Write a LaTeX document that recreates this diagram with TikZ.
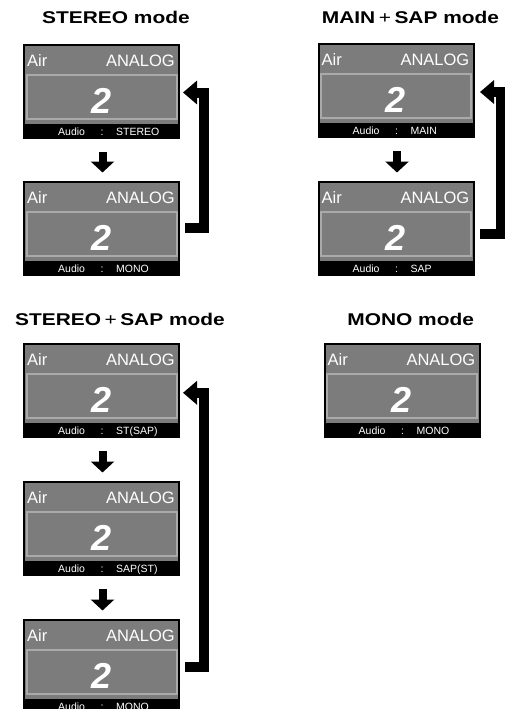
\documentclass[tikz,border=0pt]{standalone}
\usepackage{graphicx}
\usepackage{fontspec}
\setmainfont{Liberation Sans}
\usetikzlibrary{arrows.meta}
\definecolor{scrgray}{RGB}{124,124,124}
\definecolor{scrline}{RGB}{170,170,170}
% #1 name, #2 x, #3 y (top-left), #4 value
\newcommand\tvscreen[4]{%
  \node[scr] (#1) at (#2,#3) {};
  \fill[scrgray] ([shift={(2,2)}]#1.north west) rectangle ([shift={(-2,80)}]#1.north east);
  \draw[scrline, line width=2pt] ([shift={(3.5,31)}]#1.north west) rectangle ([shift={(-3.5,75)}]#1.north east);
  \node[airtxt, anchor=base west] (#1-air) at ([shift={(4,22.7)}]#1.north west) {Air};
  \node[airtxt, anchor=base east] (#1-ana) at ([shift={(-5,22.7)}]#1.north east) {ANALOG};
  \node[numtxt, anchor=base] (#1-num) at ([shift={(0,69)}]#1.north) {2};
  \node[audtxt, anchor=base west] (#1-aud) at ([shift={(35,91.7)}]#1.north west) {Audio};
  \node[audtxt, anchor=base] (#1-col) at ([shift={(79,91.7)}]#1.north west) {:};
  \node[audtxt, anchor=base west] (#1-val) at ([shift={(93,91.7)}]#1.north west) {#4};
}
\begin{document}
\begin{tikzpicture}[x=1pt,y=-1pt,
  scr/.style={rectangle, fill=black, anchor=north west, minimum width=157pt, minimum height=95pt, inner sep=0pt, outer sep=0pt},
  airtxt/.style={text=white, font=\fontsize{16.5}{18}\selectfont, inner sep=0pt},
  numtxt/.style={text=white, font=\fontsize{36}{40}\selectfont\bfseries\itshape, inner sep=0pt},
  audtxt/.style={text=white, font=\fontsize{10.5}{12}\selectfont, inner sep=0pt},
  ttl/.style={font=\fontsize{17}{20}\selectfont\bfseries, inner sep=0pt, anchor=base},
  nextarrow/.style={line width=8pt, -{Triangle[width=23pt,length=11pt]}},
  backarrow/.style={line width=10pt, line join=miter, -{Triangle[width=23pt,length=14pt]}}
]
\useasboundingbox (0,0) rectangle (505,709);

% titles
\node[ttl] (tA) at (116,24) {\scalebox{1.23}[1]{STEREO mode}};
\node[ttl] (tB) at (410.5,24) {\scalebox{1.23}[1]{MAIN\,{\mdseries+}\,SAP mode}};
\node[ttl] (tC) at (120,325) {\scalebox{1.23}[1]{STEREO\,{\mdseries+}\,SAP mode}};
\node[ttl] (tD) at (410.7,325.5) {\scalebox{1.23}[1]{MONO mode}};

% STEREO mode
\tvscreen{a1}{23}{44}{STEREO}
\tvscreen{a2}{23}{181}{MONO}
\draw[nextarrow] ([shift={(1,13)}]a1.south) -- ([shift={(1,-8.5)}]a2.north);
\draw[backarrow] ([shift={(5,46.5)}]a2.north east) -| ([shift={(24,48.5)}]a1.north east) -- ([shift={(3,48.5)}]a1.north east);

% MAIN + SAP mode
\tvscreen{b1}{317.5}{43}{MAIN}
\tvscreen{b2}{317.5}{181}{SAP}
\draw[nextarrow] ([shift={(1,13)}]b1.south) -- ([shift={(1,-8.5)}]b2.north);
\draw[backarrow] ([shift={(5.5,52.5)}]b2.north east) -| ([shift={(26,49)}]b1.north east) -- ([shift={(5.5,49)}]b1.north east);

% STEREO + SAP mode
\tvscreen{c1}{23}{343}{ST(SAP)}
\tvscreen{c2}{23}{481}{SAP(ST)}
\tvscreen{c3}{23}{619}{MONO}
\draw[nextarrow] ([shift={(1,13)}]c1.south) -- ([shift={(1,-8.5)}]c2.north);
\draw[nextarrow] ([shift={(1,13)}]c2.south) -- ([shift={(1,-8.5)}]c3.north);
\draw[backarrow] ([shift={(5,48)}]c3.north east) -| ([shift={(24,49.8)}]c1.north east) -- ([shift={(3,49.8)}]c1.north east);

% MONO mode
\tvscreen{d1}{323.5}{343}{MONO}
\end{tikzpicture}
\end{document}
